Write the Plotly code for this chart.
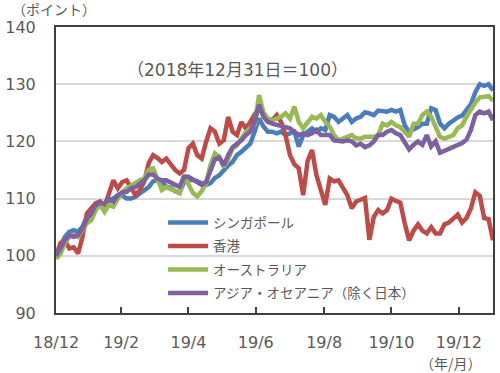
import pandas as pd
import plotly.graph_objects as go

# every 4 days from 2018-12-31 to 2020-01-31
dates = list(pd.date_range("2018-12-31", periods=100, freq="4D").strftime("%Y-%m-%d"))

singapore = [100, 101.6, 103.3, 104.2, 104.5, 104.2, 105.1, 106.8, 108, 108.9,
             109.2, 108.6, 109.5, 110, 110.6, 110.6, 110, 110, 110.3, 110.9,
             111.5, 112, 113, 113.2, 113, 112.1, 111.9, 111.3, 111, 112.9,
             113.2, 113.3, 113, 112.7, 112.4, 112.7, 113.6, 114.1, 115, 115.8,
             116.4, 117.6, 118.2, 118.8, 119.6, 121.7, 124, 122.6, 121.7, 121.7,
             121.4, 121.7, 121.1, 121.4, 121.7, 119.1, 121.1, 121.7, 122.3, 121.7,
             122.3, 122, 124.6, 124.3, 123.4, 124, 124.6, 123.4, 124, 124.3,
             125.1, 124.9, 124.6, 125.4, 125.2, 125.2, 125.5, 125.2, 125.5, 122.8,
             121.7, 122, 122.5, 123.1, 123.1, 125.8, 125.5, 123.1, 122.3, 123.1,
             123.7, 124.2, 124.5, 125.4, 126.5, 128.6, 130, 129.7, 130, 128.9]
hongkong = [100, 102.2, 102.7, 101.3, 101.5, 100.4, 103.3, 107.4, 108.3, 109.2,
            109.5, 108.6, 110.9, 113.2, 111.8, 112.9, 113.2, 111.8, 110.6, 111.5,
            113, 116.2, 117.6, 117.1, 116.4, 117, 115.9, 115, 114.4, 115,
            118.8, 119.6, 117.6, 117, 119.9, 122.3, 121.7, 119.6, 120.2, 124.3,
            121.7, 121.1, 123.4, 122.3, 123.4, 124.6, 126, 124.6, 123.9, 123.7,
            124.6, 123.4, 121.1, 117.6, 116, 115.3, 110.6, 116.6, 118.5, 114.1,
            111.2, 108.9, 113.5, 113, 113.2, 111.8, 110.6, 108.3, 109.5, 109.8,
            110.1, 102.8, 106.8, 108, 107.4, 108, 110, 109.6, 109.3, 105.7,
            102.7, 104.4, 105.5, 104.4, 103.9, 105, 103.9, 103.9, 105.5, 105.8,
            106.4, 107.2, 105.8, 106.6, 108.3, 111.1, 110.5, 106.6, 106.4, 102.7]
australia = [99.5, 100.3, 102.2, 103.3, 103.6, 103.3, 104.5, 105.7, 106.2, 108,
             108.9, 107.7, 108.9, 108.6, 110, 111.1, 111.8, 112.3, 112.6, 113.2,
             113.5, 115, 115.3, 113.2, 111.5, 112, 111.6, 111.3, 111, 114.1,
             112.4, 111, 110.4, 111.3, 112.7, 115.9, 117.9, 117.3, 115.5, 116.9,
             118.8, 119.3, 120.5, 121.7, 122.3, 122.9, 128.1, 125.1, 124, 123.7,
             124, 124.3, 124.9, 124, 126.1, 123.4, 122.3, 123.4, 124.3, 124,
             124.6, 123.4, 122.6, 121.1, 120.2, 120.5, 120.8, 121.1, 120.5, 120.5,
             120.8, 120.8, 120.8, 121.1, 123.1, 122.8, 123.4, 122.8, 122.5, 121.7,
             120.8, 123.1, 123.1, 124.6, 125.2, 124.3, 122.3, 120.8, 120.5, 120.8,
             121.1, 122.3, 122.8, 124.3, 125.6, 126.8, 127.7, 127.9, 127.9, 127.1]
asia_oceania = [100, 101.3, 102.7, 103.6, 103.3, 103.6, 104.8, 106.5, 107.4, 108.9,
                109.2, 109.2, 110, 109.5, 110.6, 111.1, 111.2, 111.8, 112, 112.6,
                113.2, 114.2, 114.2, 113.5, 113.2, 113.2, 112.7, 112.4, 112.1, 113.8,
                113.8, 113.3, 112.7, 112.4, 112.9, 114.9, 116.9, 117.2, 115.8, 117.6,
                119, 119.6, 120.2, 121.1, 121.7, 123.4, 126.4, 124.3, 123.4, 123.1,
                122.9, 122.6, 122.6, 122.3, 121.7, 121.1, 121.4, 121.1, 121.4, 122,
                121.1, 121.1, 121.1, 120.2, 120, 120, 120.2, 120, 119.3, 119.6,
                119, 119.3, 120, 121.1, 121.1, 121.7, 122, 121.4, 121.1, 119.7,
                118.6, 119.4, 120, 119.4, 121.1, 119.1, 120, 118, 118.3, 118.8,
                119.1, 119.4, 119.7, 120.3, 122, 124.6, 125.2, 124.9, 125.2, 123.7]

names = ["シンガポール", "香港", "オーストラリア", "アジア・オセアニア（除く日本）"]
series = [singapore, hongkong, australia, asia_oceania]
colors = ["#4A7EBB", "#BE4B48", "#98B954", "#7D60A0"]

tick_vals = ["2018-12-31", "2019-02-28", "2019-04-30", "2019-06-30",
             "2019-08-31", "2019-10-31", "2019-12-31"]
tick_text = ["18/12", "19/2", "19/4", "19/6", "19/8", "19/10", "19/12"]

FONT = "DejaVu Sans, Noto Sans CJK JP"
JFONT = "Noto Sans CJK JP"
GRAY = "#595959"

fig = go.Figure()
for i, (n, s, c) in enumerate(zip(names, series, colors)):
    fig.add_trace(go.Scatter(x=dates, y=s, name=n, mode="lines", legendgroup=str(i),
                             line=dict(color=c, width=4.5)))

fig.update_layout(
    width=500, height=373,
    margin=dict(l=49, r=5, t=27, b=60),
    paper_bgcolor="white", plot_bgcolor="white",
    font=dict(family=FONT, color=GRAY, size=14),
    showlegend=True,
    legend=dict(x=0.245, y=0.37, xanchor="left", yanchor="top",
                bgcolor="rgba(0,0,0,0)", font=dict(family=JFONT, size=13.5, color=GRAY),
                itemwidth=40, tracegroupgap=3),
)
fig.update_xaxes(type="date", range=["2018-12-31", "2020-01-31"],
                 tickvals=tick_vals, ticktext=tick_text,
                 tickfont=dict(size=16, color=GRAY), ticklabelstandoff=14,
                 showgrid=False, showline=True, mirror=True,
                 linecolor="#404040", linewidth=2,
                 ticks="inside", ticklen=6, tickcolor="#404040", tickwidth=2)
fig.update_yaxes(range=[90, 140], dtick=10,
                 tickfont=dict(size=16, color=GRAY), ticklabelstandoff=15,
                 showgrid=True, gridcolor="#D9D9D9", gridwidth=1.5,
                 showline=True, mirror=True, linecolor="#404040", linewidth=2,
                 ticks="", zeroline=False)

fig.add_annotation(text="（2018年12月31日＝100）", xref="paper", yref="paper",
                   x=0.415, y=0.85, xanchor="center", yanchor="middle",
                   showarrow=False, font=dict(size=17, color=GRAY))
fig.add_annotation(text="（ポイント）", xref="paper", yref="paper",
                   x=-0.005, y=1.064, xanchor="center", yanchor="middle",
                   showarrow=False, font=dict(family=JFONT, size=14, color=GRAY))
fig.add_annotation(text="（年/月）", xref="paper", yref="paper",
                   x=0.903, y=-0.175, xanchor="center", yanchor="middle",
                   showarrow=False, font=dict(family=JFONT, size=14, color=GRAY))

fig.write_html("out.html", config={"displayModeBar": False},
               post_script="document.body.style.margin='0';")
